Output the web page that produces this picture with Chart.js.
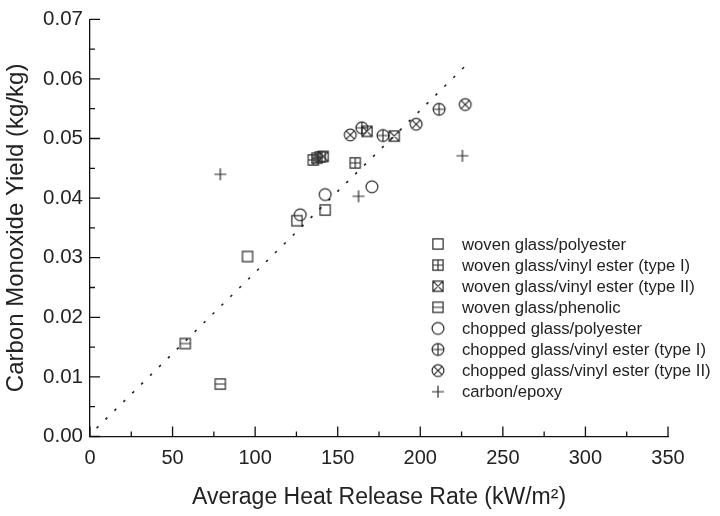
<!DOCTYPE html>
<html>
<head>
<meta charset="utf-8">
<script src="https://cdn.jsdelivr.net/npm/chart.js@4.4.1/dist/chart.umd.min.js"></script>
<style>
  html, body { margin: 0; padding: 0; background: #fff; }
  #wrap { width: 720px; height: 516px; position: relative; }
</style>
</head>
<body>
<div id="wrap"><canvas id="c" width="720" height="516"></canvas></div>
<script>
// ---- data ----
const seriesLabels = [
  'woven glass/polyester',
  'woven glass/vinyl ester (type I)',
  'woven glass/vinyl ester (type II)',
  'woven glass/phenolic',
  'chopped glass/polyester',
  'chopped glass/vinyl ester (type I)',
  'chopped glass/vinyl ester (type II)',
  'carbon/epoxy'
];
const wovenPolyesterX = [95.4, 125.3, 142.4];
const wovenPolyesterY = [0.0302, 0.0362, 0.0380];
const wovenVinylIX = [135.2, 137.4, 139.4, 160.6];
const wovenVinylIY = [0.0464, 0.0467, 0.0469, 0.0459];
const wovenVinylIIX = [141.2, 167.7, 184.2];
const wovenVinylIIY = [0.0470, 0.0512, 0.0504];
const wovenPhenolicX = [57.7, 78.9];
const wovenPhenolicY = [0.0156, 0.0088];
const choppedPolyesterX = [127.3, 142.4, 170.7];
const choppedPolyesterY = [0.0372, 0.0406, 0.0419];
const choppedVinylIX = [164.6, 177.4, 211.4];
const choppedVinylIY = [0.0518, 0.0505, 0.0549];
const choppedVinylIIX = [157.6, 197.5, 227.2];
const choppedVinylIIY = [0.0506, 0.0524, 0.0557];
const carbonEpoxyX = [78.9, 162.6, 225.5];
const carbonEpoxyY = [0.0440, 0.0403, 0.0471];
const fitLineX = [4, 228.5];
const fitLineY = [0.0014, 0.0625];

const xTitle = 'Average Heat Release Rate (kW/m\u00B2)';
const yTitle = 'Carbon Monoxide Yield (kg/kg)';

// ---- marker glyphs ----
const INK = '#2b2b2b';
function makeMarker(kind) {
  const S = 18, c = document.createElement('canvas');
  c.width = S; c.height = S;
  const g = c.getContext('2d');
  g.strokeStyle = INK; g.lineWidth = 1.2;
  const m = S / 2, h = 5.1, r = 5.9;
  g.beginPath();
  if (kind === 'plus') {
    g.moveTo(m - 6, m); g.lineTo(m + 6, m);
    g.moveTo(m, m - 6); g.lineTo(m, m + 6);
  }
  if (['sq', 'sqPlus', 'sqX', 'sqH'].includes(kind)) {
    g.rect(m - h, m - h, 2 * h, 2 * h);
    if (kind === 'sqPlus') { g.moveTo(m - h, m); g.lineTo(m + h, m); g.moveTo(m, m - h); g.lineTo(m, m + h); }
    if (kind === 'sqX') { g.moveTo(m - h, m - h); g.lineTo(m + h, m + h); g.moveTo(m + h, m - h); g.lineTo(m - h, m + h); }
    if (kind === 'sqH') { g.moveTo(m - h, m); g.lineTo(m + h, m); }
  }
  if (['ci', 'ciPlus', 'ciX'].includes(kind)) {
    g.moveTo(m + r, m); g.arc(m, m, r, 0, Math.PI * 2);
    if (kind === 'ciPlus') { g.moveTo(m - r, m); g.lineTo(m + r, m); g.moveTo(m, m - r); g.lineTo(m, m + r); }
    if (kind === 'ciX') { const d = r * Math.SQRT1_2; g.moveTo(m - d, m - d); g.lineTo(m + d, m + d); g.moveTo(m + d, m - d); g.lineTo(m - d, m + d); }
  }
  g.stroke();
  return c;
}
const markerKinds = ['sq', 'sqPlus', 'sqX', 'sqH', 'ci', 'ciPlus', 'ciX', 'plus'];
const markers = markerKinds.map(makeMarker);

const xs = [wovenPolyesterX, wovenVinylIX, wovenVinylIIX, wovenPhenolicX, choppedPolyesterX, choppedVinylIX, choppedVinylIIX, carbonEpoxyX];
const ys = [wovenPolyesterY, wovenVinylIY, wovenVinylIIY, wovenPhenolicY, choppedPolyesterY, choppedVinylIY, choppedVinylIIY, carbonEpoxyY];
const pts = (X, Y) => X.map((x, i) => ({ x: x, y: Y[i] }));

const datasets = [{
  label: 'fit',
  data: pts(fitLineX, fitLineY),
  showLine: true,
  borderColor: '#222',
  borderWidth: 1.6,
  borderDash: [2.5, 10],
  pointRadius: 0,
  fill: false
}];
seriesLabels.forEach((lab, i) => {
  datasets.push({
    label: lab,
    data: pts(xs[i], ys[i]),
    pointStyle: markers[i],
    pointRadius: 6,
    showLine: false
  });
});

const FONT = "'Liberation Sans', Arial, Helvetica, sans-serif";

const tickPlugin = {
  id: 'inwardTicks',
  afterDatasetsDraw(chart) {
    const ctx = chart.ctx, x = chart.scales.x, y = chart.scales.y;
    ctx.save();
    ctx.strokeStyle = '#111'; ctx.lineWidth = 1.3;
    ctx.beginPath();
    for (let v = 0; v <= 350; v += 25) {
      const p = x.getPixelForValue(v), len = (v % 50 === 0) ? 10 : 5;
      ctx.moveTo(p, x.top); ctx.lineTo(p, x.top - len);
    }
    for (let k = 0; k <= 14; k++) {
      const v = k * 0.005, p = y.getPixelForValue(v), len = (k % 2 === 0) ? 10 : 5;
      ctx.moveTo(y.right, p); ctx.lineTo(y.right + len, p);
    }
    ctx.stroke();
    ctx.restore();
  }
};

const legendPlugin = {
  id: 'innerLegend',
  afterDraw(chart) {
    const ctx = chart.ctx;
    ctx.save();
    ctx.font = '16.7px ' + FONT;
    ctx.fillStyle = '#222';
    ctx.textBaseline = 'middle';
    ctx.textAlign = 'left';
    seriesLabels.forEach((lab, i) => {
      const cy = 244 + i * 21.1;
      ctx.drawImage(markers[i], 438 - 9, cy - 9);
      ctx.fillText(lab, 462, cy + 1);
    });
    ctx.restore();
  }
};

new Chart(document.getElementById('c'), {
  type: 'scatter',
  data: { datasets: datasets },
  options: {
    responsive: false,
    animation: false,
    devicePixelRatio: 1,
    layout: { padding: { left: 0, right: 52, top: 14.5, bottom: 0 } },
    plugins: { legend: { display: false }, tooltip: { enabled: false } },
    scales: {
      x: {
        type: 'linear', min: 0, max: 350,
        ticks: { stepSize: 50, padding: 10, color: '#222', font: { family: FONT, size: 20 } },
        grid: { display: false, drawTicks: false },
        border: { display: true, color: '#111', width: 1.3 },
        title: { display: true, text: xTitle, color: '#222', font: { family: FONT, size: 23 }, padding: { top: 0, bottom: 5 } },
        afterFit(s) { s.height = 79.5; }
      },
      y: {
        type: 'linear', min: 0, max: 0.07,
        ticks: { stepSize: 0.01, padding: 7, color: '#222', font: { family: FONT, size: 20.5 },
                 callback: v => Number(v).toFixed(2) },
        grid: { display: false, drawTicks: false },
        border: { display: true, color: '#111', width: 1.3 },
        title: { display: true, text: yTitle, color: '#222', font: { family: FONT, size: 24 }, padding: { top: 2, bottom: 0 } },
        afterFit(s) { s.width = 90; }
      }
    }
  },
  plugins: [tickPlugin, legendPlugin]
});
</script>
</body>
</html>
